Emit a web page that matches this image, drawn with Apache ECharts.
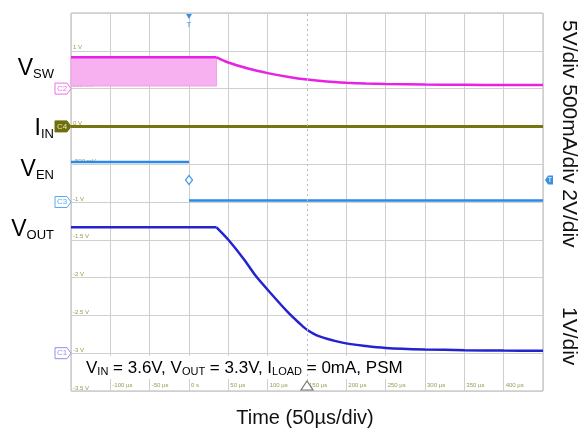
<!DOCTYPE html>
<html>
<head>
<meta charset="utf-8">
<script src="https://cdn.jsdelivr.net/npm/echarts@6/dist/echarts.min.js"></script>
<style>
  html, body { margin: 0; padding: 0; background: #fff; }
  #main { width: 579px; height: 432px; }
</style>
</head>
<body>
<div id="main"></div>
<script>
// time in µs, levels in screen volts (0.5 V per division)
const vswT = [-150, 35, 50, 75, 100, 125, 150, 175, 200, 225, 250, 300, 350, 400, 450];
const vswV = [0.914, 0.914, 0.845, 0.765, 0.705, 0.658, 0.62, 0.594, 0.578, 0.567, 0.56, 0.553, 0.55, 0.548, 0.548];

// switching band of V_SW before shutdown
const bandT = [-150, 35];
const bandLow = 0.534;
const bandTop = 0.914;

const iinT = [-150, 450];
const iinV = [0.0, 0.0];

const venT = [-150, 0, 0, 0, 450];
const venV = [-0.47, -0.47, null, -0.98, -0.98];

const voutT = [-150, 35, 50, 70, 85, 105, 125, 140, 150, 165, 195, 225, 250, 300, 350, 400, 450];
const voutV = [-1.335, -1.335, -1.50, -1.76, -1.98, -2.22, -2.45, -2.60, -2.69, -2.775, -2.86, -2.905, -2.93, -2.95, -2.96, -2.965, -2.967];

const trigLevel = -0.71;
const channels = [
  { name: 'C2', level: 0.5, color: '#f070e8', fill: false },
  { name: 'C4', level: 0, color: '#6e6e0c', fill: true },
  { name: 'C3', level: -1, color: '#5aa8ee', fill: false },
  { name: 'C1', level: -3, color: '#8f8fe8', fill: false }
];

const FONT = 'Liberation Sans, Arial, sans-serif';
const pair = (ts, vs) => ts.map((t, i) => [t, vs[i] === null ? '-' : vs[i]]);

// splitLine colours: the centre (150 µs) line is drawn dotted separately
const xLineColors = [];
for (let i = 0; i < 13; i++) xLineColors.push(i === 6 ? 'rgba(0,0,0,0)' : '#cfcfcf');

const chart = echarts.init(document.getElementById('main'));

const option = {
  animation: false,
  backgroundColor: '#fff',
  grid: {
    left: 71, top: 13, width: 472, height: 378,
    show: true, borderColor: '#b4b4b4', borderWidth: 1
  },
  xAxis: {
    type: 'value', min: -150, max: 450, interval: 50,
    axisLine: { show: false },
    axisTick: { show: false },
    splitLine: { show: true, lineStyle: { color: xLineColors, width: 1 } },
    axisLabel: {
      inside: true, margin: 3, fontSize: 6, color: '#9a9a50', align: 'left', padding: [0, 0, 0, 2],
      fontFamily: FONT,
      formatter: v => (v === -150 || v === 450) ? '' : (v === 0 ? '0 s' : v + ' µs')
    }
  },
  yAxis: {
    type: 'value', min: -3.5, max: 1.5, interval: 0.5,
    axisLine: { show: false },
    axisTick: { show: false },
    splitLine: { show: true, lineStyle: { color: '#cfcfcf', width: 1 } },
    axisLabel: {
      inside: true, margin: 2, fontSize: 6, color: '#9a9a50', verticalAlign: 'bottom',
      fontFamily: FONT,
      formatter: v => {
        if (v >= 1.5) return '';
        if (Math.abs(v) === 0.5) return (v < 0 ? '-' : '') + '500 mV';
        return v + ' V';
      }
    }
  },
  series: [
    {
      name: 'VSW', type: 'line', data: pair(vswT.slice(0, 2), vswV.slice(0, 2)), symbol: 'none',
      lineStyle: { color: '#e722e4', width: 2.5 }, z: 4,
      markArea: {
        silent: true,
        itemStyle: { color: '#f7b0f0', borderColor: '#f39ee9', borderWidth: 1 },
        data: [[{ coord: [bandT[0], bandLow] }, { coord: [bandT[1], bandTop] }]]
      }
    },
    {
      name: 'VSW', type: 'line', data: pair(vswT.slice(1), vswV.slice(1)), symbol: 'none', smooth: 0.3,
      lineStyle: { color: '#e722e4', width: 2.5 }, z: 4
    },
    {
      name: 'IIN', type: 'line', data: pair(iinT, iinV), symbol: 'none',
      lineStyle: { color: '#76760e', width: 3 }, z: 4,
      markLine: {
        silent: true, symbol: 'none', label: { show: false },
        lineStyle: { color: '#bdbdbd', type: [2, 3], width: 1 },
        data: [{ xAxis: 150 }]
      }
    },
    {
      name: 'VEN', type: 'line', data: pair(venT, venV), symbol: 'none', connectNulls: false,
      lineStyle: { color: '#2b8ae6', width: 2.5 }, z: 4,
      markPoint: {
        silent: true, symbol: 'diamond', symbolSize: [7, 9],
        itemStyle: { color: '#fff', borderColor: '#3b96ea', borderWidth: 1.2 },
        label: { show: false },
        data: [{ coord: [0, trigLevel] }]
      }
    },
    {
      name: 'VOUT', type: 'line', data: pair(voutT.slice(0, 2), voutV.slice(0, 2)), symbol: 'none',
      lineStyle: { color: '#2323cf', width: 2.5 }, z: 4
    },
    {
      name: 'VOUT', type: 'line', data: pair(voutT.slice(1), voutV.slice(1)), symbol: 'none', smooth: 0.3,
      lineStyle: { color: '#2323cf', width: 2.5 }, z: 4
    }
  ]
};
chart.setOption(option);

function px(t, v) { return chart.convertToPixel({ gridIndex: 0 }, [t, v]); }
const gLeft = px(-150, 0)[0];
const gRight = px(450, 0)[0];
const gTop = px(0, 1.5)[1];
const gBottom = px(0, -3.5)[1];

const g = [];

// channel tags on the left edge
channels.forEach(c => {
  const y = px(0, c.level)[1];
  g.push({
    type: 'polygon', z: 20,
    shape: { points: [[gLeft - 16, y - 5.5], [gLeft - 4, y - 5.5], [gLeft, y], [gLeft - 4, y + 5.5], [gLeft - 16, y + 5.5]] },
    style: { fill: c.fill ? c.color : '#fff', stroke: c.color, lineWidth: 1 }
  });
  g.push({
    type: 'text', z: 21, x: gLeft - 9, y: y,
    style: { text: c.name, fill: c.fill ? '#e8e8c0' : c.color, font: '8px ' + FONT, align: 'center', verticalAlign: 'middle' }
  });
});

// trigger position marker (top) and trigger level marker (right)
const tx = px(0, 0)[0];
g.push({ type: 'polygon', z: 20, shape: { points: [[tx - 3, gTop + 1], [tx + 3, gTop + 1], [tx, gTop + 6]] }, style: { fill: '#3a8fe6' } });
g.push({ type: 'text', z: 20, x: tx, y: gTop + 12, style: { text: 'T', fill: '#3a8fe6', font: '8px ' + FONT, align: 'center', verticalAlign: 'middle' } });
const ty = px(0, trigLevel)[1];
g.push({
  type: 'polygon', z: 20,
  shape: { points: [[gRight + 2, ty], [gRight + 5, ty - 4.5], [gRight + 10, ty - 4.5], [gRight + 10, ty + 4.5], [gRight + 5, ty + 4.5]] },
  style: { fill: '#3a8fe6' }
});
g.push({ type: 'text', z: 21, x: gRight + 7, y: ty, style: { text: 'T', fill: '#fff', font: '7px ' + FONT, align: 'center', verticalAlign: 'middle' } });

// time reference triangle at the bottom
const rx = px(150, 0)[0];
g.push({
  type: 'polygon', z: 20,
  shape: { points: [[rx - 6, gBottom - 1], [rx + 6, gBottom - 1], [rx, gBottom - 10]] },
  style: { fill: '#fff', stroke: '#777', lineWidth: 1.2 }
});

// trace names on the left
const subRich = {
  m: { fontSize: 23, fontFamily: FONT, color: '#111', verticalAlign: 'bottom', lineHeight: 27 },
  s: { fontSize: 13, fontFamily: FONT, color: '#111', verticalAlign: 'bottom', lineHeight: 15 }
};
[['SW', 67], ['IN', 127, 'I'], ['EN', 168], ['OUT', 228]].forEach(([sub, y, main]) => {
  g.push({
    type: 'text', z: 20, x: 54, y: y,
    style: { text: '{m|' + (main || 'V') + '}{s|' + sub + '}', rich: subRich, align: 'right', verticalAlign: 'middle' }
  });
});

// test conditions box
g.push({ type: 'rect', z: 1, shape: { x: 80, y: 356, width: 326, height: 23 }, style: { fill: '#fff' } });
g.push({
  type: 'text', z: 20, x: 86, y: 367,
  style: {
    text: '{m|V}{s|IN}{m| = 3.6V, V}{s|OUT}{m| = 3.3V, I}{s|LOAD}{m| = 0mA, PSM}',
    rich: {
      m: { fontSize: 17, fontFamily: FONT, color: '#111', verticalAlign: 'bottom', lineHeight: 20 },
      s: { fontSize: 11, fontFamily: FONT, color: '#111', verticalAlign: 'bottom', lineHeight: 12 }
    },
    align: 'left', verticalAlign: 'middle'
  }
});

// scale labels on the right, rotated
g.push({
  type: 'text', z: 20, x: 569, y: 20, rotation: -Math.PI / 2,
  style: { text: '5V/div 500mA/div 2V/div', fill: '#111', font: '21px ' + FONT, align: 'left', verticalAlign: 'middle' }
});
g.push({
  type: 'text', z: 20, x: 569, y: 307, rotation: -Math.PI / 2,
  style: { text: '1V/div', fill: '#111', font: '21px ' + FONT, align: 'left', verticalAlign: 'middle' }
});

// x axis title
g.push({
  type: 'text', z: 20, x: 305, y: 418,
  style: { text: 'Time (50µs/div)', fill: '#111', font: '20px ' + FONT, align: 'center', verticalAlign: 'middle' }
});

chart.setOption({ graphic: { elements: g } });

window.addEventListener('resize', function () { chart.resize(); });
</script>
</body>
</html>
